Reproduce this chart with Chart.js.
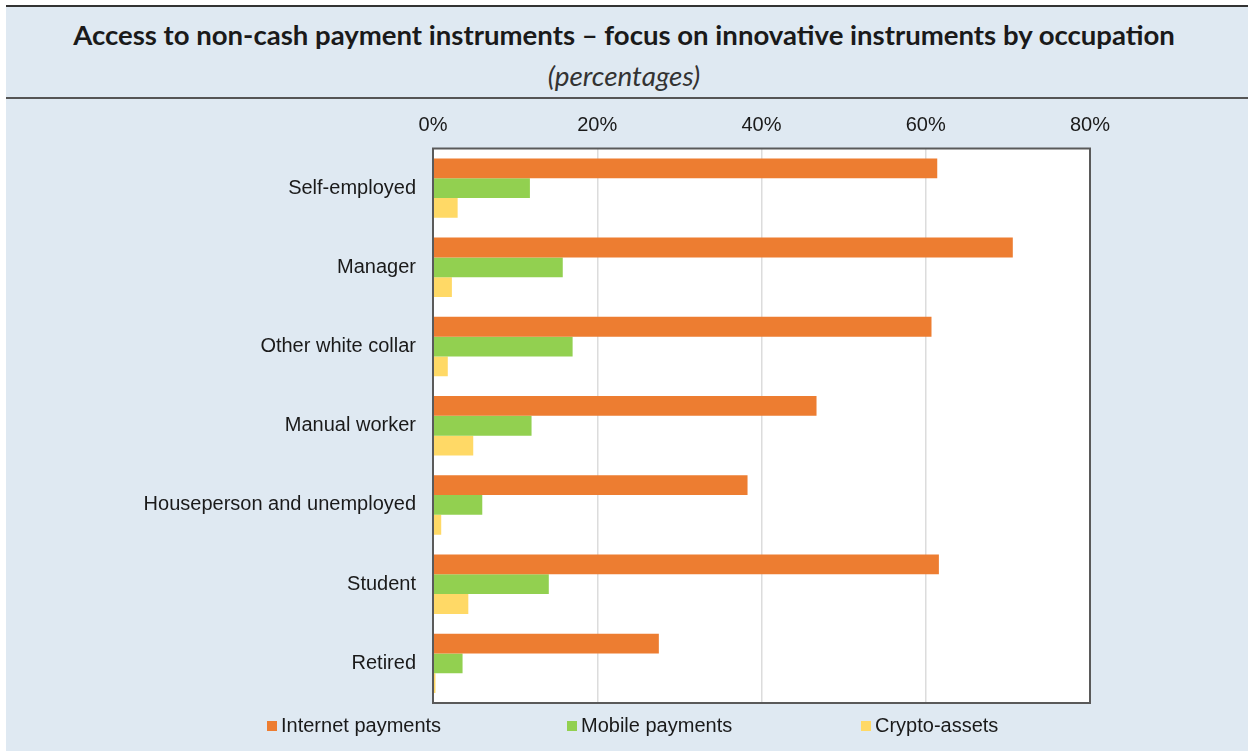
<!DOCTYPE html>
<html>
<head>
<meta charset="utf-8">
<script src="https://cdn.jsdelivr.net/npm/chart.js@4.4.1/dist/chart.umd.min.js"></script>
<style>
  body { margin: 0; background: #ffffff; width: 1248px; height: 751px; overflow: hidden; position: relative; }
  #panel { position: absolute; left: 6px; top: 7px; width: 1242px; height: 744px; background: #dfe9f2; }
  #topline { position: absolute; left: 6px; top: 5px; width: 1242px; height: 2px; background: #333; }
  #title { position: absolute; top: 18px; left: 0; width: 1248px; text-align: center; font-family: Lato, sans-serif; font-weight: bold; font-size: 27px; color: #1a1a1a; white-space: nowrap; }
  #subtitle { position: absolute; top: 59px; left: 0; width: 1248px; text-align: center; font-family: Lato, sans-serif; font-style: italic; font-size: 22px; color: #333; }
  #rule { position: absolute; left: 6px; top: 97px; width: 1242px; height: 2px; background: #555; }
  #wrap { position: absolute; left: 0; top: 100px; width: 1248px; height: 651px; }
  #legend { position: absolute; left: 267px; top: 714px; display: flex; font-family: "Liberation Sans", Arial, sans-serif; font-size: 20px; color: #1a1a1a; }
  #legend .item { display: flex; align-items: center; }
  #legend .box { width: 10px; height: 10px; margin-right: 4px; }
</style>
</head>
<body>
<div id="panel"></div>
<div id="topline"></div>
<div id="title"><span>Access to non-cash payment instruments – focus on innovative instruments by occupation</span></div>
<div id="subtitle"><span>(percentages)</span></div>
<div id="rule"></div>
<div id="wrap"><canvas id="chart" width="1248" height="651"></canvas></div>
<div id="legend"></div>
<script>
const categories = ['Self-employed', 'Manager', 'Other white collar', 'Manual worker', 'Houseperson and unemployed', 'Student', 'Retired'];
const internetPayments = [61.4, 70.6, 60.7, 46.7, 38.3, 61.6, 27.5];
const mobilePayments = [11.8, 15.8, 17.0, 12.0, 6.0, 14.1, 3.6];
const cryptoAssets = [3.0, 2.3, 1.8, 4.9, 1.0, 4.3, 0.3];
const xTicks = [0, 20, 40, 60, 80];

// stretch the header text to the width it has in the picture
function fitWidth(id, target) {
  const span = document.querySelector('#' + id + ' span');
  const el = document.getElementById(id);
  const size = parseFloat(getComputedStyle(el).fontSize);
  el.style.fontSize = (size * target / span.offsetWidth) + 'px';
}
fitWidth('title', 1102);
fitWidth('subtitle', 152);

const areaPlugin = {
  id: 'areaBox',
  beforeDraw(chart) {
    const { ctx, chartArea } = chart;
    ctx.save();
    ctx.fillStyle = '#ffffff';
    ctx.fillRect(chartArea.left, chartArea.top, chartArea.right - chartArea.left, chartArea.bottom - chartArea.top);
    ctx.restore();
  },
  afterDraw(chart) {
    const { ctx, chartArea } = chart;
    ctx.save();
    ctx.strokeStyle = '#5a5a5a';
    ctx.lineWidth = 2;
    ctx.strokeRect(chartArea.left, chartArea.top, chartArea.right - chartArea.left, chartArea.bottom - chartArea.top);
    ctx.restore();
  },
};

const ctx = document.getElementById('chart').getContext('2d');
const chart = new Chart(ctx, {
  type: 'bar',
  data: {
    labels: categories,
    datasets: [
      { label: 'Internet payments', data: internetPayments, backgroundColor: '#ed7d31' },
      { label: 'Mobile payments', data: mobilePayments, backgroundColor: '#92d050' },
      { label: 'Crypto-assets', data: cryptoAssets, backgroundColor: '#ffd966' },
    ],
  },
  options: {
    indexAxis: 'y',
    responsive: false,
    animation: false,
    categoryPercentage: 0.75,
    barPercentage: 1.0,
    layout: { padding: { top: 0, right: 158, bottom: 48, left: 0 } },
    scales: {
      x: {
        position: 'top',
        min: 0,
        max: 80,
        afterBuildTicks(scale) {
          scale.ticks = xTicks.map((v) => ({ value: v }));
        },
        afterFit(scale) { scale.height = 48.5; },
        ticks: {
          padding: 11,
          color: '#1a1a1a',
          font: { family: '"Liberation Sans", Arial, sans-serif', size: 20 },
          callback: (v) => v + '%',
        },
        grid: { color: '#dcdcdc', lineWidth: 1.5, drawTicks: false },
        border: { display: false },
      },
      y: {
        afterFit(scale) { scale.width = 433; },
        ticks: {
          padding: 17,
          color: '#1a1a1a',
          font: { family: '"Liberation Sans", Arial, sans-serif', size: 20 },
        },
        grid: { display: false, drawTicks: false },
        border: { display: false },
      },
    },
    plugins: {
      legend: { display: false },
      tooltip: { enabled: false },
    },
  },
  plugins: [areaPlugin],
});

const widths = [300, 294, 200];
const legend = document.getElementById('legend');
chart.data.datasets.forEach((ds, i) => {
  const item = document.createElement('div');
  item.className = 'item';
  item.style.width = widths[i] + 'px';
  item.innerHTML = '<span class="box" style="background:' + ds.backgroundColor + '"></span><span>' + ds.label + '</span>';
  legend.appendChild(item);
});
</script>
</body>
</html>
